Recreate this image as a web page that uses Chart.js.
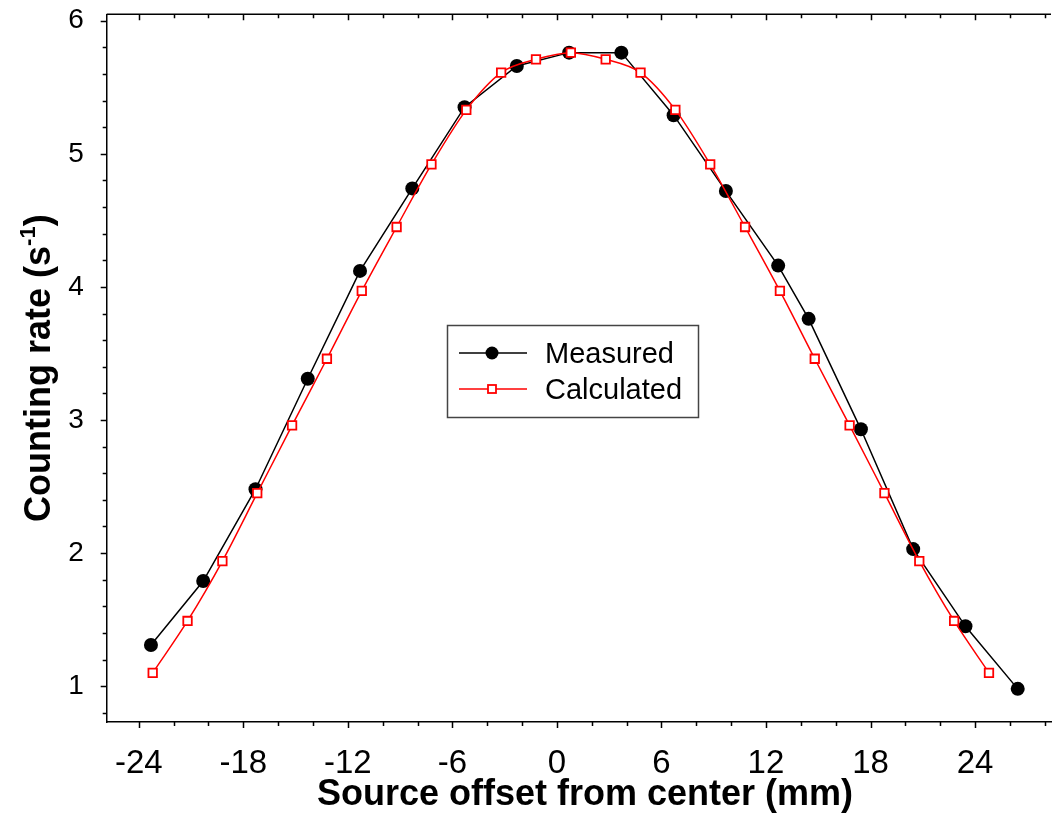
<!DOCTYPE html>
<html>
<head>
<meta charset="utf-8">
<script src="https://cdn.jsdelivr.net/npm/chart.js@4/dist/chart.umd.min.js"></script>
<style>
  body { margin: 0; background: #fff; }
  #wrap { width: 1052px; height: 836px; }
</style>
</head>
<body>
<div id="wrap"><canvas id="mycanvas" width="1052" height="836"></canvas></div>
<script>
// offsets in mm, counting rates in 1/s
var measuredX = [-23.3, -20.3, -17.3, -14.3, -11.3, -8.3, -5.3, -2.3, 0.7, 3.7, 6.7, 9.7, 12.7, 14.45, 17.45, 20.45, 23.45, 26.45];
var measuredY = [1.31, 1.79, 2.48, 3.31, 4.12, 4.74, 5.35, 5.66, 5.76, 5.76, 5.29, 4.72, 4.16, 3.76, 2.93, 2.03, 1.45, 0.98];

var calcX = [-23.2, -21.2, -19.2, -17.2, -15.2, -13.2, -11.2, -9.2, -7.2, -5.2, -3.2, -1.2, 0.8,
             2.8, 4.8, 6.8, 8.8, 10.8, 12.8, 14.8, 16.8, 18.8, 20.8, 22.8, 24.8];
var calcY = [1.10, 1.49, 1.94, 2.45, 2.96, 3.46, 3.97, 4.45, 4.92, 5.33, 5.61, 5.71, 5.76,
             5.71, 5.61, 5.33, 4.92, 4.45, 3.97, 3.46, 2.96, 2.45, 1.94, 1.49, 1.10];

var xTicks = [-24, -18, -12, -6, 0, 6, 12, 18, 24];
var yTicks = [1, 2, 3, 4, 5, 6];

var FONT = '"Liberation Sans", Arial, sans-serif';

function toPoints(xs, ys) {
  var pts = [];
  for (var i = 0; i < xs.length; i++) pts.push({x: xs[i], y: ys[i]});
  return pts;
}

function noPad(s) {
  s.paddingTop = 0; s.paddingBottom = 0; s.paddingLeft = 0; s.paddingRight = 0;
}

// frame, minor ticks, titles and legend box
var decor = {
  id: 'decor',
  afterDraw: function(chart) {
    var ctx = chart.ctx, a = chart.chartArea;
    var xs = chart.scales.x, ys = chart.scales.y;
    ctx.save();
    ctx.strokeStyle = '#000';
    ctx.lineWidth = 1.5;
    ctx.beginPath();
    ctx.moveTo(a.left, a.top); ctx.lineTo(a.right, a.top);
    // x ticks every 2 mm, bottom outward, top inward
    for (var v = -24; v <= 28; v += 2) {
      var px = Math.round(xs.getPixelForValue(v)) + 0.5;
      var len = (v % 6 === 0) ? 6 : 4;
      ctx.moveTo(px, a.bottom); ctx.lineTo(px, a.bottom + len);
      ctx.moveTo(px, a.top); ctx.lineTo(px, a.top + len);
    }
    // y ticks every 0.2
    for (var k = 4; k <= 30; k++) {
      var val = k / 5;
      var py = Math.round(ys.getPixelForValue(val)) + 0.5;
      var l2 = (k % 5 === 0) ? 6 : 4;
      ctx.moveTo(a.left, py); ctx.lineTo(a.left - l2, py);
    }
    ctx.stroke();

    // axis titles
    ctx.fillStyle = '#000';
    ctx.font = 'bold 36px ' + FONT;
    ctx.textAlign = 'center';
    ctx.textBaseline = 'alphabetic';
    ctx.fillText('Source offset from center (mm)', 585, 805);

    ctx.save();
    ctx.translate(50, (a.top + a.bottom) / 2);
    ctx.rotate(-Math.PI / 2);
    var main = 'Counting rate (s', sup = '-1', end = ')';
    ctx.font = 'bold 36px ' + FONT;
    var w1 = ctx.measureText(main).width, w3 = ctx.measureText(end).width;
    ctx.font = 'bold 22px ' + FONT;
    var w2 = ctx.measureText(sup).width;
    var start = -(w1 + w2 + w3) / 2;
    ctx.textAlign = 'left';
    ctx.font = 'bold 36px ' + FONT;
    ctx.fillText(main, start, 0);
    ctx.font = 'bold 22px ' + FONT;
    ctx.fillText(sup, start + w1, -15);
    ctx.font = 'bold 36px ' + FONT;
    ctx.fillText(end, start + w1 + w2, 0);
    ctx.restore();

    // legend
    var ds = chart.data.datasets;
    ctx.fillStyle = '#fff';
    ctx.fillRect(447, 325, 251, 92);
    ctx.strokeStyle = '#444';
    ctx.lineWidth = 1.5;
    ctx.strokeRect(447.5, 325.5, 251, 92);
    var rows = [353, 389];
    for (var i = 0; i < ds.length; i++) {
      var yy = rows[i];
      ctx.strokeStyle = ds[i].borderColor;
      ctx.lineWidth = 1.5;
      ctx.beginPath(); ctx.moveTo(459, yy); ctx.lineTo(527, yy); ctx.stroke();
      if (ds[i].pointStyle === 'rect') {
        ctx.fillStyle = '#fff';
        ctx.fillRect(488, yy - 4, 8, 8);
        ctx.lineWidth = 1.8;
        ctx.strokeRect(488, yy - 4, 8, 8);
      } else {
        ctx.fillStyle = ds[i].pointBackgroundColor;
        ctx.beginPath(); ctx.arc(492, yy, 6.5, 0, Math.PI * 2); ctx.fill();
      }
      ctx.fillStyle = '#000';
      ctx.font = '29px ' + FONT;
      ctx.textAlign = 'left';
      ctx.fillText(ds[i].label, 545, yy + 10);
    }
    ctx.restore();
  }
};

var ctx = document.getElementById('mycanvas');
var chart = new Chart(ctx, {
  type: 'line',
  data: {
    datasets: [
      {
        label: 'Measured',
        data: toPoints(measuredX, measuredY),
        borderColor: '#000000',
        borderWidth: 1.5,
        pointStyle: 'circle',
        pointRadius: 7,
        pointBackgroundColor: '#000000',
        pointBorderWidth: 0,
        tension: 0,
        order: 2
      },
      {
        label: 'Calculated',
        data: toPoints(calcX, calcY),
        borderColor: '#ff0000',
        borderWidth: 1.5,
        pointStyle: 'rect',
        pointRadius: 6,
        pointBackgroundColor: '#ffffff',
        pointBorderColor: '#ff0000',
        pointBorderWidth: 1.8,
        cubicInterpolationMode: 'monotone',
        order: 1
      }
    ]
  },
  options: {
    responsive: false,
    animation: false,
    events: [],
    layout: { autoPadding: false, padding: { top: 14.3, right: 1, left: 0, bottom: 0 } },
    plugins: { legend: { display: false }, tooltip: { enabled: false } },
    scales: {
      x: {
        type: 'linear',
        min: -25.84,
        max: 28.36,
        afterFit: function(s) { s.height = 114; noPad(s); },
        afterBuildTicks: function(s) { s.ticks = xTicks.map(function(v) { return {value: v}; }); },
        grid: { display: false, drawTicks: false },
        border: { display: true, color: '#000', width: 1.5 },
        ticks: { color: '#000', font: { family: FONT, size: 33 }, padding: 22, maxRotation: 0 }
      },
      y: {
        type: 'linear',
        min: 0.731,
        max: 6.048,
        afterFit: function(s) { s.width = 106.7; noPad(s); },
        afterBuildTicks: function(s) { s.ticks = yTicks.map(function(v) { return {value: v}; }); },
        grid: { display: false, drawTicks: false },
        border: { display: true, color: '#000', width: 1.5 },
        ticks: { color: '#000', font: { family: FONT, size: 28 }, padding: 23 }
      }
    }
  },
  plugins: [decor]
});
</script>
</body>
</html>
